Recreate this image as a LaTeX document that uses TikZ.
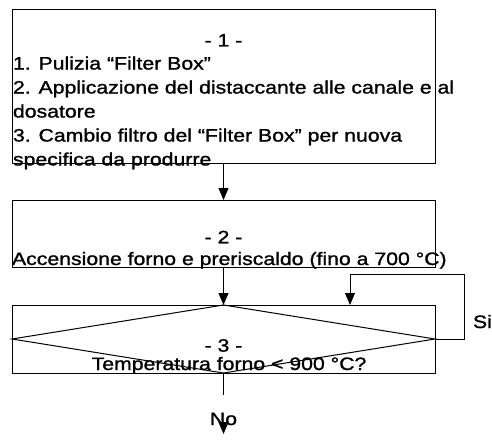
\documentclass[tikz,border=0pt]{standalone}
\usepackage{fontspec}
\setmainfont{Liberation Sans}[FakeStretch=1.18, FakeBold=1.2]
\usetikzlibrary{arrows.meta}
\usetikzlibrary{positioning}

\tikzset{
  box/.style={draw, rectangle, minimum width=423pt, inner sep=0pt, outer sep=0pt},
  txt/.style={inner sep=0pt, outer sep=0pt},
  arr/.style={-{Triangle[length=12pt,width=10pt]}},
}

\begin{document}
\begin{tikzpicture}[x=1pt, y=-1pt, line width=1pt,
                    font=\fontsize{18}{24}\selectfont]

                \useasboundingbox (0,0) rectangle (492,441);

                % the three steps
                \node (box1) [box, minimum height=153pt] at (223.5,86.5) {};
                \node (box2) [box, minimum height=67pt] at (223.5,233.5) {};
                \node (box3) [box, minimum height=68pt] at (223.5,339) {};
                \draw (box3.west) -- (box3.north) -- (box3.east)
                      -- (box3.south) -- cycle;

                \node (t1) [txt, anchor=base] at (223.5,46.5) {- 1 -};
                \node (b1) [txt, anchor=north west, align=left] at (13,56.5)
                {1. Pulizia “Filter Box”\\
                 2. Applicazione del distaccante alle canale e al\\
                 dosatore\\
                 3. Cambio filtro del “Filter Box” per nuova\\
                 specifica da produrre};
                \node (t2) [txt, anchor=base] at (223.5,243.3) {- 2 -};
                \node (b2) [txt, anchor=base west] at (12,265)
                {Accensione forno e preriscaldo (fino a 700 °C)};
                \node (t3) [txt, anchor=base] at (223.5,351.7) {- 3 -};
                \node (b3) [txt, anchor=base] at (229,370)
                {Temperatura forno < 900 °C?};

                \node (si) [txt, anchor=base west] at (473,328) {Si};
                \node (no) [txt, anchor=base] at (223.5,425) {No};

                \coordinate (loop) at (464,274);
                \coordinate (ret) at (350,305);
                \coordinate (nostop) at (223.5,395);
                \coordinate (noend) at (223.5,434);

                \begin{scope}[arr]
                    \draw (box1.south) -- (box2.north);
                    \draw (box2.south) -- (box3.north);
                    \draw (box3.east) -| (loop) -| (ret);
                    \draw (no.base) -- (noend);
                \end{scope}
                \draw (box3.south) -- (nostop);

\end{tikzpicture}
\end{document}
